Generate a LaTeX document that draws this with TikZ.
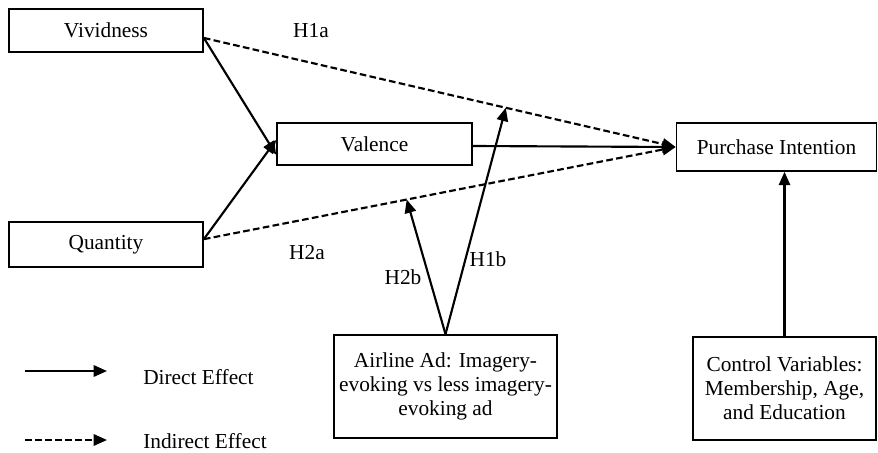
\documentclass[tikz,border=0pt]{standalone}
\usepackage{fontspec}
\setmainfont{Liberation Serif}
\usetikzlibrary{arrows.meta}

\tikzset{
  varbox/.style={draw, line width=1.3pt, align=center, inner sep=0.75pt, font=\fontsize{16}{18}\selectfont},
  direct/.style={line width=1.6pt, -{Triangle[length=10pt,width=8.5pt]}},
  indirect/.style={direct, dash pattern={on 5pt off 2.5pt}},
  hlabel/.style={inner sep=0pt, font=\fontsize{16}{18}\selectfont}
}

\begin{document}
\begin{tikzpicture}[x=0.75pt,y=0.75pt,yscale=-1,xscale=1]
\useasboundingbox (0,0) rectangle (878,453);

%Shape: Rectangle [id:viv]
\node [varbox, minimum width=145.5pt, minimum height=32.25pt] (viv) at (106,30.5) {Vividness};
%Shape: Rectangle [id:qty]
\node [varbox, minimum width=145.5pt, minimum height=33.75pt] (qty) at (106,244.5) {Quantity};
%Shape: Rectangle [id:val]
\node [varbox, minimum width=146.25pt, minimum height=31.5pt] (val) at (374.5,144) {Valence};
%Shape: Rectangle [id:pi]
\node [varbox, minimum width=150pt, minimum height=36pt] (pi) at (776.5,147) {Purchase Intention};
%Shape: Rectangle [id:air]
\node [varbox, minimum width=167.25pt, minimum height=77.25pt] (air) at (445.5,386.5) {Airline Ad: Imagery-\\evoking vs less imagery-\\evoking ad};
%Shape: Rectangle [id:ctrl]
\node [varbox, minimum width=137.25pt, minimum height=77.25pt] (ctrl) at (784.5,388.5) {Control Variables:\\Membership, Age,\\and Education};

%Straight Lines [id:direct paths]
\draw [direct] ([yshift=5.6pt]viv.east) -- ([yshift=8pt]val.west);
\draw [direct] ([yshift=-4pt]qty.east) -- ([yshift=-3pt]val.west);
\draw [direct] ([yshift=1.5pt]val.east) -- (pi.west);
%Straight Lines [id:indirect paths]
\draw [indirect] ([yshift=5.6pt]viv.east) -- coordinate[pos=0.64] (m1) (pi.west);
\draw [indirect] ([yshift=-4pt]qty.east) -- coordinate[pos=0.43] (m2) (pi.west);
%Straight Lines [id:moderation]
\draw [direct] (air.north) -- (m1);
\draw [direct] (air.north) -- (m2);
\draw [direct] (ctrl.north) -- (ctrl.north |- pi.south);

%Legend
\coordinate (ld1) at (25,371);
\coordinate (ld2) at (107,371);
\coordinate (li1) at (25,440);
\coordinate (li2) at (107,440);
\draw [direct] (ld1) -- (ld2);
\draw [indirect] (li1) -- (li2);

% Text Node
\node [hlabel, anchor=west] (dtxt) at (143,377) {Direct Effect};
% Text Node
\node [hlabel, anchor=west] (itxt) at (143,441) {Indirect Effect};
% Text Node
\node [hlabel] (h1a) at (311,31) {H1a};
% Text Node
\node [hlabel] (h2a) at (307,253) {H2a};
% Text Node
\node [hlabel] (h2b) at (403,277) {H2b};
% Text Node
\node [hlabel] (h1b) at (488,259) {H1b};

\end{tikzpicture}
\end{document}
